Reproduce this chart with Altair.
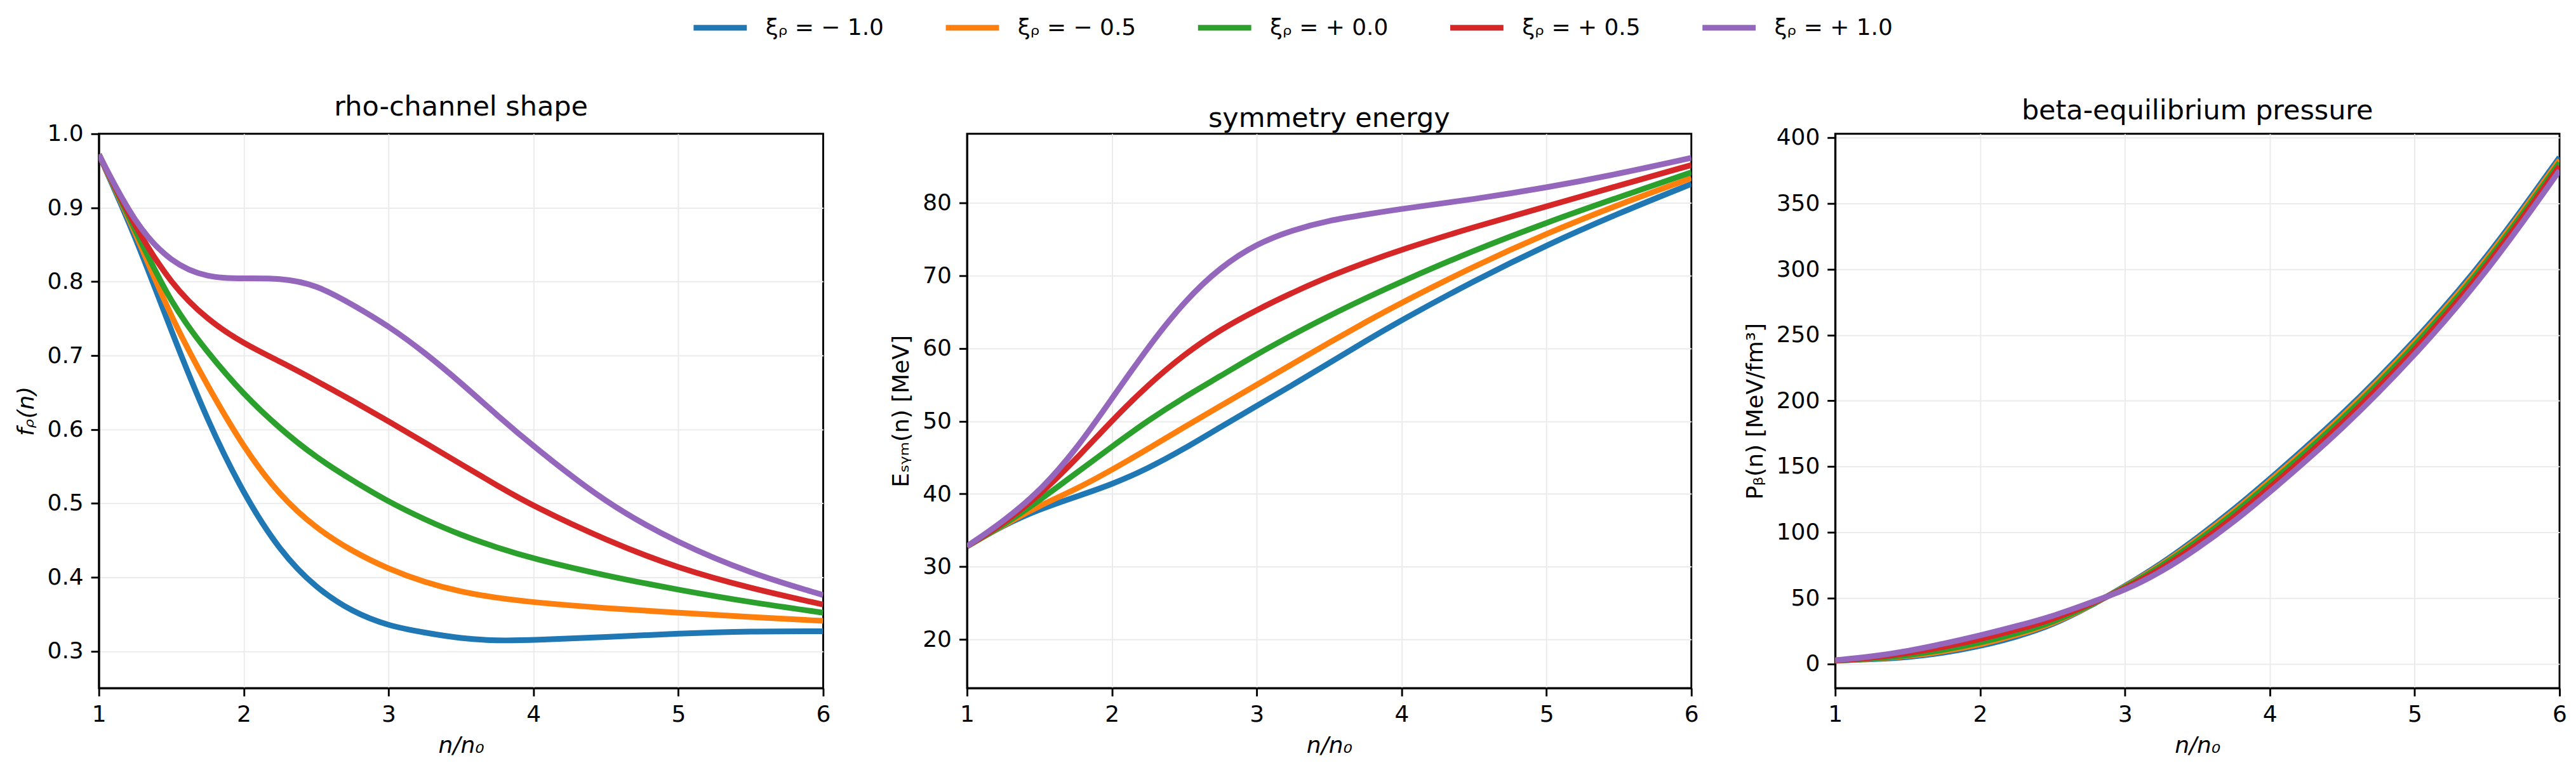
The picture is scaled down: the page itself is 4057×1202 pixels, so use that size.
import altair as alt
import pandas as pd

# density grid n/n0
X = [1.0, 1.25, 1.5, 1.75, 2.0, 2.25, 2.5, 2.75, 3.0, 3.25, 3.5, 3.75, 4.0, 4.5, 5.0, 5.5, 6.0]

LABELS = ["ξᵨ = − 1.0", "ξᵨ = − 0.5", "ξᵨ = + 0.0", "ξᵨ = + 0.5", "ξᵨ = + 1.0"]
COLORS = ["#1f77b4", "#ff7f0e", "#2ca02c", "#d62728", "#9467bd"]

# rho-channel shape f_rho(n)
F_M10 = [0.972, 0.863, 0.733, 0.611, 0.512, 0.435, 0.385, 0.353, 0.334, 0.325, 0.317, 0.314, 0.315, 0.319, 0.324, 0.327, 0.327]
F_M05 = [0.972, 0.868, 0.750, 0.659, 0.575, 0.510, 0.466, 0.435, 0.411, 0.393, 0.380, 0.372, 0.366, 0.358, 0.352, 0.346, 0.341]
F_P00 = [0.972, 0.870, 0.769, 0.704, 0.647, 0.601, 0.562, 0.531, 0.502, 0.478, 0.457, 0.440, 0.425, 0.402, 0.383, 0.366, 0.352]
F_P05 = [0.972, 0.873, 0.796, 0.748, 0.716, 0.692, 0.666, 0.639, 0.611, 0.582, 0.553, 0.524, 0.496, 0.450, 0.412, 0.385, 0.363]
F_P10 = [0.972, 0.877, 0.825, 0.805, 0.804, 0.805, 0.796, 0.769, 0.740, 0.704, 0.663, 0.619, 0.577, 0.500, 0.446, 0.405, 0.376]

# symmetry energy E_sym(n) [MeV]
E_M10 = [32.8, 35.7, 37.9, 39.6, 41.3, 43.5, 46.2, 49.2, 52.1, 55.0, 58.0, 61.0, 63.9, 69.3, 74.2, 78.6, 82.6]
E_M05 = [32.8, 35.7, 38.4, 40.6, 43.3, 46.2, 49.2, 52.1, 55.0, 57.9, 60.8, 63.6, 66.3, 71.3, 75.8, 79.8, 83.4]
E_P00 = [32.8, 35.7, 39.1, 42.8, 46.5, 50.1, 53.3, 56.2, 59.2, 61.9, 64.5, 66.9, 69.2, 73.5, 77.3, 80.8, 84.2]
E_P05 = [32.8, 35.9, 39.8, 44.7, 50.1, 55.0, 59.2, 62.6, 65.3, 67.7, 69.9, 71.8, 73.6, 76.7, 79.5, 82.4, 85.2]
E_P10 = [32.8, 36.2, 40.3, 46.0, 53.1, 60.2, 66.5, 71.2, 74.4, 76.3, 77.6, 78.4, 79.2, 80.5, 82.1, 84.0, 86.2]

# beta-equilibrium pressure P_beta(n) [MeV/fm^3]
P_M10 = [2.5, 3.5, 5.0, 8.3, 13.4, 20.4, 29.5, 43.2, 59.0, 76.0, 95.8, 117.2, 140.5, 188.8, 245.0, 308.0, 385.0]
P_M05 = [2.5, 3.8, 5.8, 9.4, 14.7, 21.7, 30.5, 43.6, 58.5, 75.0, 94.4, 115.6, 138.8, 186.9, 243.0, 306.0, 383.0]
P_P00 = [2.5, 4.0, 6.5, 10.5, 16.0, 23.0, 31.5, 44.0, 58.0, 74.0, 93.0, 114.0, 137.0, 185.0, 241.0, 304.0, 381.0]
P_P05 = [2.5, 4.6, 8.0, 12.8, 18.7, 25.7, 33.7, 45.0, 57.0, 72.0, 90.4, 111.0, 133.8, 181.7, 237.7, 301.0, 378.3]
P_P10 = [2.8, 5.5, 9.7, 15.3, 21.6, 28.6, 36.1, 46.2, 55.8, 69.8, 87.6, 107.8, 130.4, 178.0, 234.0, 297.4, 375.0]

F_ALL = [F_M10, F_M05, F_P00, F_P05, F_P10]
E_ALL = [E_M10, E_M05, E_P00, E_P05, E_P10]
P_ALL = [P_M10, P_M05, P_P00, P_P05, P_P10]

rows = []
for i, lab in enumerate(LABELS):
    for j, x in enumerate(X):
        rows.append({"x": x, "series": lab, "f": F_ALL[i][j], "e": E_ALL[i][j], "p": P_ALL[i][j]})
df = pd.DataFrame(rows)

FONT = "DejaVu Sans"

legend = alt.Legend(
    orient="none", legendX=955, legendY=-193, direction="horizontal", columns=5,
    title=None, symbolType="M-2,0L2,0", symbolSize=1764, symbolStrokeWidth=9,
    labelFontSize=36, labelFont=FONT, labelColor="black", labelOffset=46,
    columnPadding=79, labelLimit=600, padding=0,
)


def panel(field, title, ytitle, ydomain, yticks, fmt, ystyle, yedge):
    return alt.Chart(df).mark_line(strokeWidth=9, interpolate="basis", clip=True).encode(
        x=alt.X("x:Q", scale=alt.Scale(domain=[1, 6], nice=False, zero=False),
                axis=alt.Axis(values=[1, 2, 3, 4, 5, 6], format="d", title="n/n₀",
                              titleFontStyle="italic",
                              gridOpacity={"condition": {"test": "datum.value <= 1 || datum.value >= 6", "value": 0}, "value": 1})),
        y=alt.Y(f"{field}:Q", scale=alt.Scale(domain=ydomain, nice=False, zero=False),
                axis=alt.Axis(values=yticks, format=fmt, title=ytitle, titleFontStyle=ystyle,
                              gridOpacity={"condition": {"test": f"datum.value >= {yedge}", "value": 0}, "value": 1})),
        color=alt.Color("series:N", scale=alt.Scale(domain=LABELS, range=COLORS), legend=legend),
    ).properties(
        width=1143, height=875,
        title=alt.TitleParams(title, fontSize=43, font=FONT, fontWeight="normal", color="black",
                              anchor="middle", frame="group", offset=2),
    )


p1 = panel("f", "rho-channel shape", "fᵨ(n)", [0.25, 1.0],
           [0.3, 0.4, 0.5, 0.6, 0.7, 0.8, 0.9, 1.0], ".1f", "italic", 0.999)
p2 = panel("e", "symmetry energy", "Eₛᵧₘ(n) [MeV]", [13.3, 89.5],
           [20, 30, 40, 50, 60, 70, 80], "d", "normal", 89.5)
p3 = panel("p", "beta-equilibrium pressure", "Pᵦ(n) [MeV/fm³]", [-18.4, 402.9],
           [0, 50, 100, 150, 200, 250, 300, 350, 400], "d", "normal", 402.9)

chart = alt.hconcat(p1, p2, p3, spacing=227, bounds="flush").resolve_scale(
    color="shared"
).properties(
    padding={"left": 13, "top": 9, "right": 5, "bottom": 2},
    background="white",
).configure_view(
    stroke="black", strokeWidth=2.9
).configure_axis(
    domainColor="black", domainWidth=2.9, tickColor="black", tickWidth=2.9, tickSize=12.6,
    labelFontSize=36, labelFont=FONT, labelColor="black", labelPadding=12,
    labelFlush=False, labelOverlap=False,
    titleFontSize=36, titleFont=FONT, titleFontWeight="normal", titleColor="black", titlePadding=14,
    gridColor="#ebebeb", gridWidth=2,
)

chart.save("out.html", embed_options={"renderer": "svg", "actions": False})
